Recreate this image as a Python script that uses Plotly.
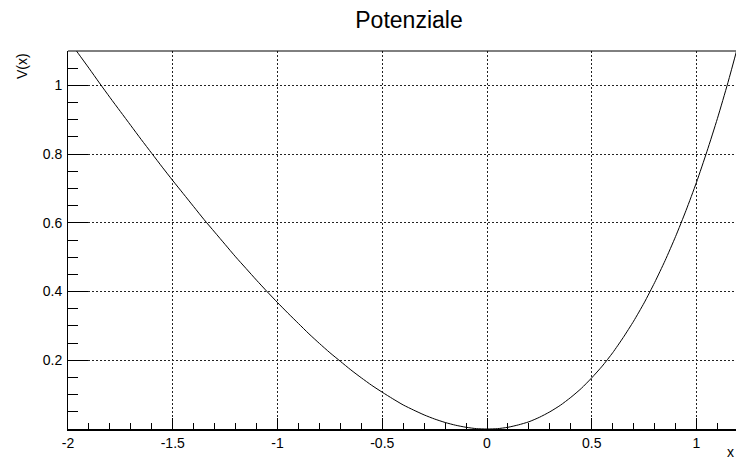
import plotly.graph_objects as go

# Sampled potential V(x) along x
x_vals = [-2.00, -1.95, -1.90, -1.85, -1.80, -1.75, -1.70, -1.65, -1.60, -1.55,
          -1.50, -1.45, -1.40, -1.35, -1.30, -1.25, -1.20, -1.15, -1.10, -1.05,
          -1.00, -0.95, -0.90, -0.85, -0.80, -0.75, -0.70, -0.65, -0.60, -0.55,
          -0.50, -0.45, -0.40, -0.35, -0.30, -0.25, -0.20, -0.15, -0.10, -0.05,
          0.00, 0.05, 0.10, 0.15, 0.20, 0.25, 0.30, 0.35, 0.40, 0.45,
          0.50, 0.55, 0.60, 0.65, 0.70, 0.75, 0.80, 0.85, 0.90, 0.95,
          1.00, 1.05, 1.10, 1.15, 1.20]
v_vals = [1.135, 1.092, 1.050, 1.007, 0.965, 0.924, 0.883, 0.842, 0.802, 0.762,
          0.723, 0.685, 0.647, 0.609, 0.573, 0.537, 0.501, 0.467, 0.433, 0.400,
          0.368, 0.337, 0.307, 0.277, 0.249, 0.222, 0.197, 0.172, 0.149, 0.127,
          0.107, 0.088, 0.070, 0.055, 0.041, 0.029, 0.019, 0.011, 0.005, 0.001,
          0.000, 0.001, 0.005, 0.012, 0.021, 0.034, 0.050, 0.069, 0.092, 0.118,
          0.149, 0.183, 0.222, 0.266, 0.314, 0.367, 0.426, 0.490, 0.560, 0.636,
          0.718, 0.808, 0.904, 1.008, 1.120]

x_tickvals = [-2, -1.5, -1, -0.5, 0, 0.5, 1]
x_ticktext = ["-2", "-1.5", "-1", "-0.5", "0", "0.5", "1"]
y_tickvals = [0.2, 0.4, 0.6, 0.8, 1.0]
y_ticktext = ["0.2", "0.4", "0.6", "0.8", "1"]

FONT = "Liberation Sans, Arial, Helvetica, sans-serif"
GRID = dict(showgrid=True, gridcolor="#222222", gridwidth=1, griddash="2px,2px")

fig = go.Figure()
fig.add_trace(go.Scatter(
    x=x_vals, y=v_vals, mode="lines",
    line=dict(color="black", width=1, shape="spline", smoothing=0.6),
    hoverinfo="skip", showlegend=False,
))

fig.update_layout(
    width=736, height=462,
    margin=dict(l=68, r=0, t=51, b=33, pad=0),
    paper_bgcolor="white", plot_bgcolor="white",
    font=dict(family=FONT, color="black"),
    title=dict(text="Potenziale", x=409 / 736, xref="container", xanchor="center",
               y=1 - 20 / 462, yref="container", yanchor="middle",
               font=dict(family=FONT, size=23, color="black")),
    xaxis=dict(
        range=[-2, 1.1885], tickvals=x_tickvals, ticktext=x_ticktext,
        ticks="inside", ticklen=11, tickwidth=1, tickcolor="black",
        minor=dict(dtick=0.1, tick0=0, ticks="inside", ticklen=6,
                   tickcolor="black", tickwidth=1, showgrid=False),
        showline=True, linecolor="black", linewidth=2, mirror=False,
        zeroline=False, tickfont=dict(family=FONT, size=14, color="black"),
        **GRID,
    ),
    yaxis=dict(
        range=[0, 1.1], tickvals=y_tickvals, ticktext=y_ticktext,
        ticks="inside", ticklen=20, tickwidth=1, tickcolor="black",
        minor=dict(dtick=0.05, tick0=0, ticks="inside", ticklen=10,
                   tickcolor="black", tickwidth=1, showgrid=False),
        showline=True, linecolor="black", linewidth=1, mirror=False,
        zeroline=False, tickfont=dict(family=FONT, size=14, color="black"),
        ticklabelstandoff=2,
        **GRID,
    ),
    shapes=[dict(type="line", xref="paper", yref="paper", x0=0, x1=1, y0=1, y1=1,
                 line=dict(color="black", width=1))],
    annotations=[
        dict(text="V(x)", textangle=-90, xref="paper", yref="paper",
             x=(22 - 68) / 668, y=1, xanchor="center", yanchor="top",
             showarrow=False, font=dict(family=FONT, size=14, color="black")),
        dict(text="x", xref="paper", yref="paper",
             x=(730 - 68) / 668, y=-23 / 378, xanchor="center", yanchor="middle",
             showarrow=False, font=dict(family=FONT, size=14, color="black")),
    ],
)

fig.write_html("out.html")
